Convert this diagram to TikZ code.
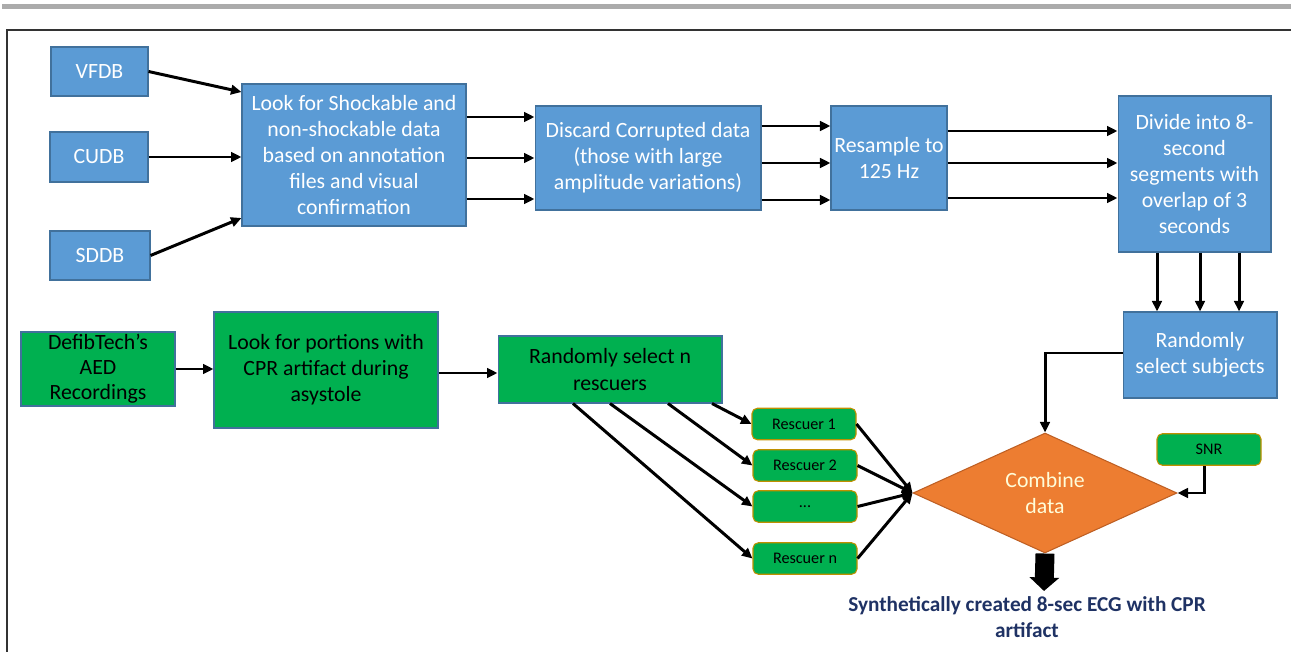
\documentclass[tikz,border=0pt]{standalone}
\usepackage{fontspec}
\setmainfont{Carlito}
\usepackage{tikz}
\usetikzlibrary{arrows.meta,shapes.geometric}
\usepackage{xcolor}
\definecolor{boxblue}{RGB}{91, 155, 213}
\definecolor{edgeblue}{RGB}{65, 113, 156}
\definecolor{boxgreen}{RGB}{0, 176, 80}
\definecolor{edgegold}{RGB}{191, 144, 0}
\definecolor{mixorange}{RGB}{237, 125, 49}
\definecolor{edgeorange}{RGB}{190, 95, 35}
\definecolor{resultnavy}{RGB}{31, 50, 100}
\tikzset{
    bluebox/.style={draw=edgeblue, line width=0.6pt, fill=boxblue, text=white,
        align=center, inner sep=0pt, font=\fontsize{12.4}{14.9}\selectfont},
    greenbox/.style={bluebox, fill=boxgreen, text=black},
    rescuerbox/.style={draw=edgegold, line width=0.6pt, fill=boxgreen, rounded corners=3pt,
        minimum width=2.08cm, minimum height=0.63cm, inner sep=0pt,
        font=\fontsize{9.2}{11}\selectfont},
    arr/.style={line width=1.7pt, -{Triangle[length=2.1mm,width=1.9mm]}},
    bigarr/.style={line width=0.38cm, -{Triangle[length=0.27cm,width=0.58cm]}},
}

\begin{document}
\begin{tikzpicture}[x=0.02cm, y=-0.02cm]
    \useasboundingbox (0,0) rectangle (1291,652);

    % Page rule and frame
    \fill[black!33] (2,4) rectangle (1291,9);
    \draw[line width=1.2pt, black!80] (7,652) -- (7,30) -- (1291,30);

    % Shockable data pipeline
    \node[bluebox, minimum width=1.94cm, minimum height=0.98cm] (vfdb) at (99.5,71.5) {VFDB};
    \node[bluebox, minimum width=1.96cm, minimum height=1.00cm] (cudb) at (99,157) {CUDB};
    \node[bluebox, minimum width=2.00cm, minimum height=0.98cm] (sddb) at (100,255.5) {SDDB};
    \node[bluebox, minimum width=4.48cm, minimum height=2.84cm] (look) at (354,155)
        {Look for Shockable and\\non-shockable data\\based on annotation\\files and visual\\confirmation};
    \node[bluebox, minimum width=4.52cm, minimum height=2.08cm] (discard) at (648,158)
        {Discard Corrupted data\\(those with large\\amplitude variations)};
    \node[bluebox, minimum width=2.32cm, minimum height=2.08cm] (resample) at (889,158)
        {Resample to\\125 Hz};
    \node[bluebox, minimum width=3.06cm, minimum height=3.12cm] (divide) at (1194.5,174)
        {Divide into 8-\\second\\segments with\\overlap of 3\\seconds};
    \node[bluebox, minimum width=3.08cm, minimum height=1.72cm] (subjects) at (1200,355)
        {Randomly\\select subjects};

    % CPR artifact pipeline
    \node[greenbox, minimum width=3.08cm, minimum height=1.48cm,
        font=\fontsize{12.4}{14.2}\selectfont] (defib) at (98,369)
        {DefibTech's\\AED\\Recordings};
    \node[greenbox, minimum width=4.48cm, minimum height=2.32cm] (portions) at (326,370)
        {Look for portions with\\CPR artifact during\\asystole};
    \node[greenbox, minimum width=4.48cm, minimum height=1.34cm] (select) at (610,369.5)
        {Randomly select n\\rescuers};
    \node[rescuerbox] (r1) at (804,424) {Rescuer 1};
    \node[rescuerbox] (r2) at (805,465.5) {Rescuer 2};
    \node[rescuerbox] (rdots) at (805,506.5) {...};
    \node[rescuerbox] (rn) at (805,558.5) {Rescuer n};
    \node[rescuerbox] (snr) at (1209,449.5) {SNR};

    % Mixing step
    \node[diamond, draw=edgeorange, line width=0.6pt, fill=mixorange, text=white!85!yellow,
        aspect=2.2, minimum width=5.28cm, minimum height=2.4cm, inner sep=0pt, align=center,
        font=\fontsize{12.4}{14.9}\selectfont] (combine) at (1045,493) {Combine\\data};
    \coordinate (outtip) at (1044,591);
    \node[text=resultnavy, align=center, font=\bfseries\fontsize{12.1}{14.5}\selectfont]
        (result) at (1027,617) {Synthetically created 8-sec ECG with CPR\\artifact};

    % Connectors
    \draw[arr] (vfdb.east) -- (look.west |- 0,92);
    \draw[arr] (cudb.east) -- (look.west |- cudb.east);
    \draw[arr] (sddb.east) -- (look.west |- 0,218);
    \foreach \yy in {117,158,199}
        \draw[arr] (look.east |- 0,\yy) -- (discard.west |- 0,\yy);
    \foreach \yy in {126,163,200}
        \draw[arr] (discard.east |- 0,\yy) -- (resample.west |- 0,\yy);
    \foreach \yy in {131,163,198}
        \draw[arr] (resample.east |- 0,\yy) -- (divide.west |- 0,\yy);
    \foreach \xx in {1157,1200,1239}
        \draw[arr] (divide.south -| \xx,0) -- (subjects.north -| \xx,0);
    \draw[arr] (subjects.west |- 0,353) -| (combine.north);
    \draw[arr] (snr.south -| 1204,0) |- (combine.east);

    \draw[arr] (defib.east) -- (portions.west |- defib.east);
    \draw[arr] (portions.east |- 0,373) -- (select.west |- 0,373);
    \draw[arr] (select.south -| 712,0) -- (r1.west);
    \draw[arr] (select.south -| 668,0) -- (r2.west);
    \draw[arr] (select.south -| 610,0) -- (rdots.west);
    \draw[arr] (select.south -| 573,0) -- (rn.west);
    \foreach \rr in {r1,r2,rdots,rn}
        \draw[arr] (\rr.east) -- (combine.west);

    \draw[bigarr] (combine.south) -- (outtip);
\end{tikzpicture}
\end{document}
